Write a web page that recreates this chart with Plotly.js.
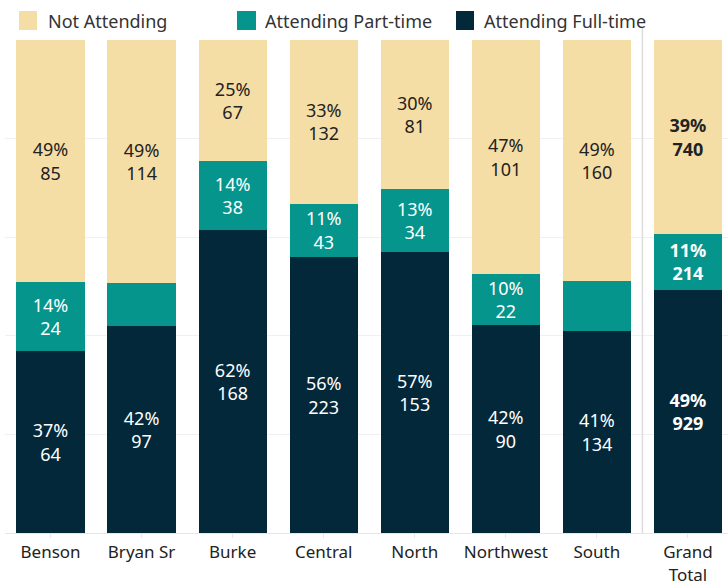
<!DOCTYPE html>
<html><head><meta charset="utf-8">
<script src="https://cdn.plot.ly/plotly-3.0.1.min.js"></script>
<style>body{margin:0;background:#fff}#chart{width:728px;height:584px}</style>
</head><body><div id="chart"></div>
<script>
const categories = ["Benson","Bryan Sr","Burke","Central","North","Northwest","South","Grand<br>Total"];
const fullTime = [64, 97, 168, 223, 153, 90, 134, 929];
const partTime = [24, 20, 38, 43, 34, 22, 33, 214];
const notAttending = [85, 114, 67, 132, 81, 101, 160, 740];
const showPartLabel = [true, false, true, true, true, true, false, true];
const seriesNames = ["Not Attending", "Attending Part-time", "Attending Full-time"];
const seriesColors = ["#F5DEA5", "#05958D", "#03283A"];

const totals = categories.map((_, i) => fullTime[i] + partTime[i] + notAttending[i]);
function pct(v, i) { return v / totals[i] * 100; }
function label(v, i, show) {
  if (show === false) return "";
  const p = Math.round(pct(v, i)) + "%";
  return i === categories.length - 1 ? "<b>" + p + "</b><br><b>" + v + "</b>" : p + "<br>" + v;
}

const font = "Noto Sans, sans-serif";
function trace(name, vals, color, txtColor, showArr) {
  return {
    type: "bar", name: name, x: categories,
    y: vals.map((v, i) => pct(v, i)),
    text: vals.map((v, i) => label(v, i, showArr ? showArr[i] : true)),
    textposition: "inside", insidetextanchor: "middle", textangle: 0,
    constraintext: "none",
    textfont: {family: font, size: 18, color: txtColor},
    marker: {color: color, line: {width: 0}},
    hoverinfo: "skip", showlegend: false
  };
}

const data = [
  trace(seriesNames[2], fullTime, seriesColors[2], "#ffffff"),
  trace(seriesNames[1], partTime, seriesColors[1], "#ffffff", showPartLabel),
  trace(seriesNames[0], notAttending, seriesColors[0], "#222222")
];

const W = 728, H = 584, L = 5, R = 0, T = 40, B = 51;
const pw = W - L - R, ph = H - T - B;
const px = x => (x - L) / pw;
const py = y => (H - B - y) / ph;

// manual legend (decoration)
const legSw = [[19, 37], [237, 256], [456, 474]];
const legTx = [46, 263, 482];
const shapes = [{type: "line", xref: "x", yref: "paper", x0: 6.5, x1: 6.5, y0: 0, y1: py(27),
  line: {color: "#dcdcdc", width: 1.5}}];
const annotations = [];
seriesNames.forEach((n, k) => {
  shapes.push({type: "rect", xref: "paper", yref: "paper", x0: px(legSw[k][0]), x1: px(legSw[k][1]),
    y0: py(30), y1: py(11), fillcolor: seriesColors[k], line: {width: 0}});
  annotations.push({xref: "paper", yref: "paper", x: px(legTx[k]), y: py(21), xanchor: "left", yanchor: "middle",
    text: n, showarrow: false, font: {family: font, size: 18, color: "#333"}});
});

const layout = {
  width: W, height: H,
  margin: {l: L, r: R, t: T, b: B},
  barmode: "stack", bargap: 0.25,
  paper_bgcolor: "#fff", plot_bgcolor: "#fff",
  font: {family: font, size: 17, color: "#222"},
  showlegend: false,
  xaxis: {type: "category", range: [-0.5, 7.44], tickfont: {family: font, size: 17, color: "#222"},
    showline: true, linecolor: "#e6e6e6", linewidth: 1, ticks: "outside", tickcolor: "#e6e6e6", ticklen: 4,
    fixedrange: true},
  yaxis: {range: [0, 100], dtick: 20, showticklabels: false, showgrid: true, gridcolor: "#f0f0f0",
    zeroline: false, fixedrange: true},
  shapes: shapes, annotations: annotations
};

Plotly.newPlot("chart", data, layout, {displayModeBar: false, staticPlot: true});
</script></body></html>
